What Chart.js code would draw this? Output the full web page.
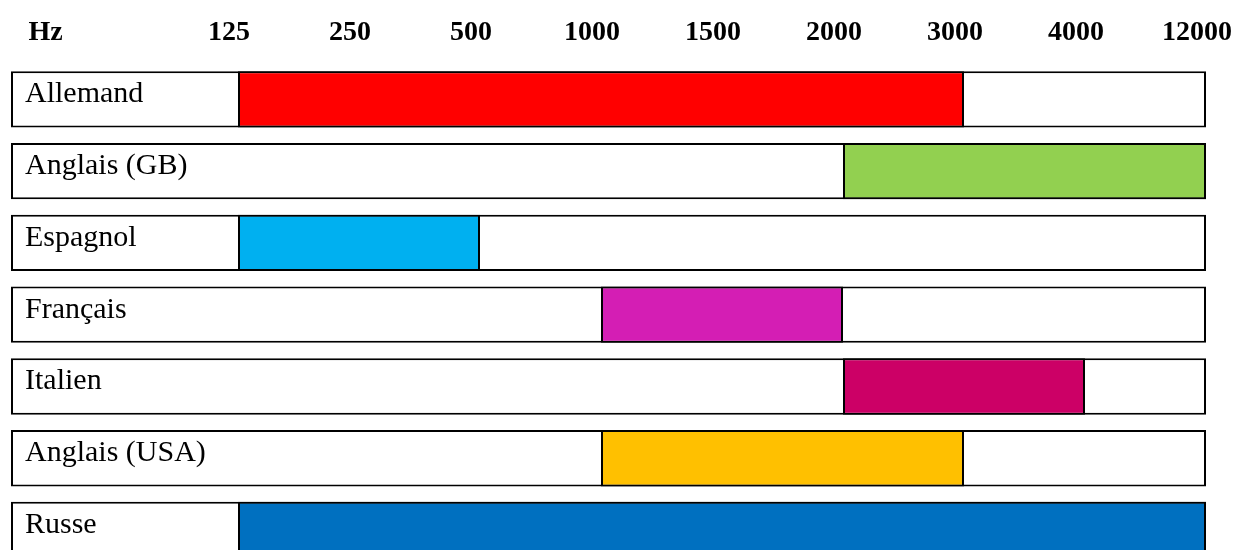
<!DOCTYPE html>
<html>
<head>
<meta charset="utf-8">
<script src="https://cdn.jsdelivr.net/npm/chart.js@4"></script>
<style>
  html, body { margin: 0; padding: 0; background: #fff; overflow: hidden; }
  canvas { display: block; }
</style>
</head>
<body>
<canvas id="chart" width="1236" height="550"></canvas>
<script>
// column headers (first one is the unit)
const hzTicks = ['Hz', '125', '250', '500', '1000', '1500', '2000', '3000', '4000', '12000'];
const languages = ['Allemand', 'Anglais (GB)', 'Espagnol', 'Français', 'Italien', 'Anglais (USA)', 'Russe'];
const bandStart = [125, 2000, 125, 1000, 2000, 1000, 125];
const bandEnd = [3000, 12000, 500, 2000, 4000, 3000, 12000];
const bandColors = ['#FF0000', '#92D050', '#00B0F0', '#D41EB4', '#CC0066', '#FFC000', '#0070C0'];

const freqs = hzTicks.slice(1);
const col = (f) => freqs.indexOf(String(f));

// label column width expressed in frequency-column units
const X_MIN = -1.876;
const X_MAX = freqs.length - 1;
const HZ_POS = -1.59;
const LABEL_SHIFT = 0.074;

const ctx = document.getElementById('chart');

new Chart(ctx, {
  type: 'bar',
  data: {
    labels: languages,
    datasets: [
      {
        label: 'bande',
        data: languages.map((_, i) => [col(bandStart[i]), col(bandEnd[i])]),
        backgroundColor: bandColors,
        borderColor: '#000',
        borderWidth: 2,
        borderSkipped: false,
        grouped: false,
        clip: false
      },
      {
        label: 'cadre',
        data: languages.map(() => [X_MIN, X_MAX]),
        backgroundColor: '#fff',
        borderColor: '#000',
        borderWidth: 2,
        borderSkipped: false,
        grouped: false,
        clip: false
      }
    ]
  },
  options: {
    indexAxis: 'y',
    responsive: false,
    animation: false,
    devicePixelRatio: 1,
    // row centres sit on the chart area edges so the last row runs off the bottom
    layout: { padding: { left: 11, right: 30, top: 0, bottom: 20 } },
    datasets: {
      bar: { barPercentage: 0.785, categoryPercentage: 1 }
    },
    plugins: {
      legend: { display: false },
      tooltip: { enabled: false }
    },
    scales: {
      x: {
        type: 'linear',
        position: 'top',
        min: X_MIN,
        max: X_MAX,
        grid: { display: false, drawTicks: false },
        border: { display: false },
        afterBuildTicks: (scale) => {
          scale.ticks = hzTicks.map((t, i) => ({ value: i === 0 ? HZ_POS : i - 1 - LABEL_SHIFT }));
        },
        afterFit: (scale) => {
          scale.height = 99.4;
          scale.paddingLeft = 0;
          scale.paddingRight = 0;
        },
        ticks: {
          autoSkip: false,
          maxRotation: 0,
          padding: 50,
          color: '#000',
          font: { family: '"Liberation Serif", serif', size: 28, weight: 'bold' },
          callback: (v, i) => hzTicks[i]
        }
      },
      y: {
        offset: false,
        grid: { display: false, drawTicks: false },
        border: { display: false },
        afterFit: (scale) => {
          scale.width = 0;
          scale.paddingTop = 0;
          scale.paddingBottom = 0;
        },
        ticks: {
          z: 1,
          mirror: true,
          padding: 14,
          labelOffset: -5,
          color: '#000',
          font: { family: '"Liberation Serif", serif', size: 30 }
        }
      }
    }
  }
});
</script>
</body>
</html>
